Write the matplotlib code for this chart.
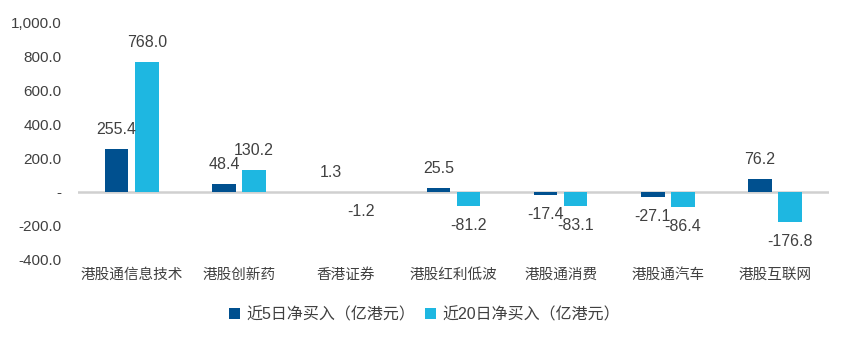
import matplotlib.pyplot as plt
import numpy as np
from matplotlib.ticker import FuncFormatter

plt.rcParams['font.family'] = ['Liberation Sans', 'Noto Sans CJK SC']

categories = ["港股通信息技术", "港股创新药", "香港证券", "港股红利低波", "港股通消费", "港股通汽车", "港股互联网"]
net_5d = [255.4, 48.4, 1.3, 25.5, -17.4, -27.1, 76.2]
net_20d = [768.0, 130.2, -1.2, -81.2, -83.1, -86.4, -176.8]
series_names = ["近5日净买入（亿港元）", "近20日净买入（亿港元）"]

dark = "#00508F"
light = "#1EB7E1"


def fmt_tick(v, pos):
    if abs(v) < 1e-9:
        return "-"
    return f"{v:,.1f}"


def main():
    fig = plt.figure(figsize=(8.49, 3.42), dpi=100)
    ax = fig.add_axes([0.092, 0.24, 0.884, 0.695])

    x = np.arange(len(categories))
    w = 0.22
    gap = 0.03
    b1 = ax.bar(x - w / 2 - gap, net_5d, w, color=dark, label=series_names[0])
    b2 = ax.bar(x + w / 2 + gap, net_20d, w, color=light, label=series_names[1])

    for bars, vals in ((b1, net_5d), (b2, net_20d)):
        for b, v in zip(bars, vals):
            cx = b.get_x() + b.get_width() / 2
            off = 14 if v >= 0 else -14
            ax.annotate(f"{v:.1f}", (cx, v), xytext=(0, off), textcoords="offset points",
                        ha="center", va="center", fontsize=11.5, color="#404040")

    ax.axhline(0, color="#D0D0D0", lw=1.8, zorder=0)
    ax.set_ylim(-400, 1000)
    ax.set_yticks(np.arange(-400, 1001, 200))
    ax.yaxis.set_major_formatter(FuncFormatter(fmt_tick))
    ax.set_xlim(-0.5, len(categories) - 0.5)
    ax.set_xticks(x)
    ax.set_xticklabels(categories, fontsize=10.5)
    ax.tick_params(axis="y", labelsize=11)
    ax.tick_params(axis="both", length=0, colors="#404040")
    ax.tick_params(axis="y", pad=12)
    ax.tick_params(axis="x", pad=6)
    for s in ax.spines.values():
        s.set_visible(False)

    fig.legend(loc="center", bbox_to_anchor=(0.5, 0.08), ncol=2, frameon=False,
               fontsize=11.5, handlelength=0.7, handleheight=0.7, handletextpad=0.4,
               columnspacing=0.6, labelcolor="#404040")

    fig.savefig("out.png", dpi=100)


if __name__ == "__main__":
    main()
